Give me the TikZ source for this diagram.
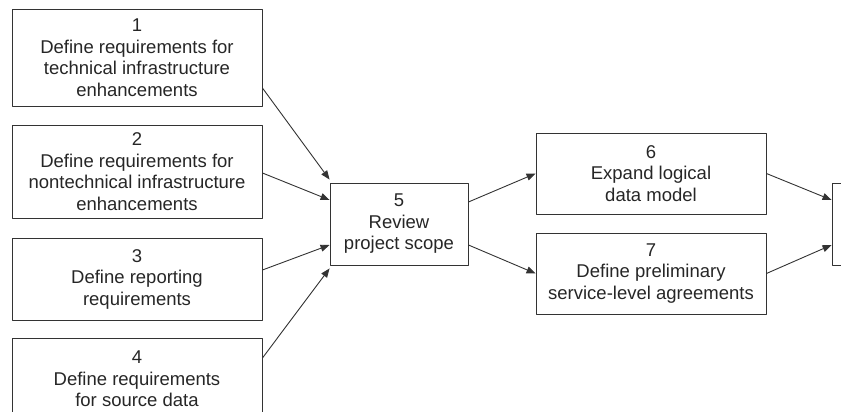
\documentclass[tikz,border=0pt]{standalone}
\usepackage{fontspec}
\setmainfont{Liberation Sans}
\usetikzlibrary{arrows.meta}
\begin{document}
\begin{tikzpicture}[x=1pt,y=1pt,line join=round,>={Triangle[length=9pt,width=7pt]},
	task/.style={draw=black!80,line width=0.9pt,align=center,inner sep=0pt,text=black!85,
		font=\fontsize{18.5}{21.5}\selectfont},
	link/.style={->,draw=black!80,line width=0.9pt}]
	\clip (0,0) rectangle (841,412);
	\node[task,minimum width=250,minimum height=97] (t1) at (137,354.5) {1\\Define requirements for\\technical infrastructure\\enhancements};
	\node[task,minimum width=250,minimum height=93] (t2) at (137,240.5) {2\\Define requirements for\\nontechnical infrastructure\\enhancements};
	\node[task,minimum width=250,minimum height=82] (t3) at (137,133) {3\\Define reporting\\requirements};
	\node[task,minimum width=250,minimum height=82] (t4) at (137,33) {4\\Define requirements\\for source data};
	\node[task,minimum width=138,minimum height=82] (t5) at (399,188) {5\\Review\\project scope};
	\node[task,minimum width=230,minimum height=81] (t6) at (651,238.5) {6\\Expand logical\\data model};
	\node[task,minimum width=230,minimum height=81] (t7) at (651,138.5) {7\\Define preliminary\\service-level agreements};
	\node[task,minimum width=138,minimum height=82] (t8) at (901,188) {};
	\draw[link] ([yshift=-30.5]t1.east)--([yshift=3]t5.north west);
	\draw[link] ([yshift=-1.5]t2.east)--([yshift=24]t5.west);
	\draw[link] ([yshift=9]t3.east)--([yshift=-21]t5.west);
	\draw[link] ([yshift=21]t4.east)--([yshift=-3]t5.south west);
	\draw[link] ([yshift=22]t5.east)--(t6.west);
	\draw[link] ([yshift=-21]t5.east)--(t7.west);
	\draw[link] (t6.east)--([yshift=24]t8.west);
	\draw[link] (t7.east)--([yshift=-21]t8.west);
\end{tikzpicture}
\end{document}
